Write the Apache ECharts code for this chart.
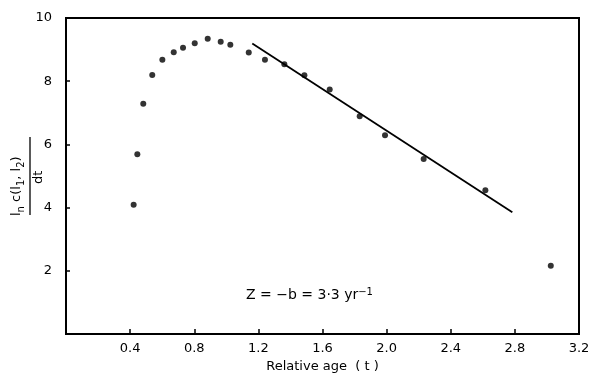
<!DOCTYPE html>
<html><head><meta charset="utf-8">
<script src="https://cdn.jsdelivr.net/npm/echarts@6/dist/echarts.min.js"></script>
<style>html,body{margin:0;padding:0;background:#fff}#c{width:600px;height:386px}</style>
</head><body><div id="c"></div>
<script>
var ageX = [0.422,0.445,0.482,0.538,0.601,0.672,0.730,0.803,0.884,0.965,1.025,1.140,1.241,1.362,1.487,1.645,1.832,1.990,2.231,2.616,3.024];
var lnC  = [4.09,5.69,7.29,8.20,8.68,8.92,9.06,9.20,9.34,9.25,9.15,8.91,8.68,8.54,8.19,7.74,6.89,6.29,5.54,4.55,2.16];
var fitX = [1.162, 2.784];
var fitY = [9.19, 3.85];
var xTicks = [0.4,0.8,1.2,1.6,2.0,2.4,2.8,3.2];
var yTicks = [2,4,6,8,10];

var font = 'DejaVu Sans';
var chart = echarts.init(document.getElementById('c'), null, {renderer:'canvas'});
chart.setOption({
  animation:false,
  backgroundColor:'#fff',
  grid:{left:66,right:21,top:18,bottom:52,show:true,borderColor:'#000',borderWidth:2},
  xAxis:{type:'value',min:0,max:3.2,interval:0.4,
    axisLine:{show:true,lineStyle:{color:'#000',width:2}},
    axisTick:{show:true,inside:true,length:5,lineStyle:{color:'#000',width:1.5}},
    splitLine:{show:false},
    axisLabel:{color:'#000',fontFamily:font,fontSize:13,margin:8,
      formatter:function(v){var s=(Math.round(v*10)/10).toFixed(1);return xTicks.indexOf(Math.round(v*10)/10)>=0?s:'';}},
    name:'Relative age  ( t )',nameLocation:'middle',nameGap:22,
    nameTextStyle:{color:'#000',fontFamily:font,fontSize:13}
  },
  yAxis:{type:'value',min:0,max:10,interval:2,
    axisLine:{show:true,lineStyle:{color:'#000',width:2}},
    axisTick:{show:true,inside:true,length:4,lineStyle:{color:'#000',width:1.5}},
    splitLine:{show:false},
    axisLabel:{color:'#000',fontFamily:font,fontSize:13,margin:14,
      formatter:function(v){return yTicks.indexOf(v)>=0?String(v):'';}}
  },
  series:[
    {type:'scatter',data:ageX.map(function(x,i){return [x,lnC[i]];}),
     symbol:'circle',symbolSize:6,itemStyle:{color:'#000'}},
    {type:'line',data:fitX.map(function(x,i){return [x,fitY[i]];}),
     symbol:'none',lineStyle:{color:'#000',width:1.8}}
  ],
  graphic:[
    {type:'text',left:246,top:287,style:{
      text:'{m|Z = −b = 3·3 yr}{s|−1}',
      rich:{m:{fontFamily:font,fontSize:14,fill:'#000'},s:{fontFamily:font,fontSize:10,fill:'#000',padding:[0,0,6,0]}}}},
    {type:'group',x:30,y:176,rotation:Math.PI/2,children:[
      {type:'text',x:-40,y:-22,style:{
        text:'{m|l}{s|n}{m| c(l}{s|1}{m|, l}{s|2}{m|)}',
        rich:{m:{fontFamily:font,fontSize:13,fill:'#000'},s:{fontFamily:font,fontSize:10,fill:'#000',padding:[8,0,0,0]}},
        fill:'#000'}},
      {type:'line',shape:{x1:-39,y1:0,x2:39,y2:0},style:{stroke:'#000',lineWidth:1.3}},
      {type:'text',x:-8,y:2,style:{text:'dt',fill:'#000',font:'13px "DejaVu Sans"'}}
    ]}
  ]
});
</script></body></html>
